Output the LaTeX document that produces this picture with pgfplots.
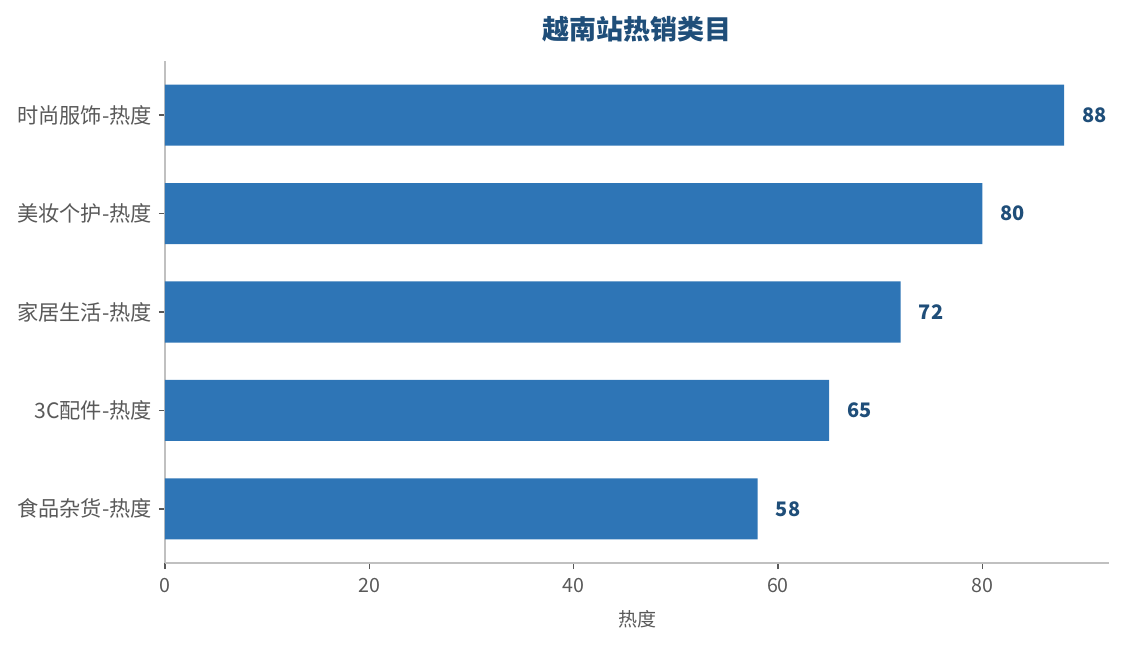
\documentclass[border=0pt]{standalone}
\usepackage{pgfplots}
\pgfplotsset{compat=1.18}
\usepackage{fontspec}
\setmainfont{Noto Sans CJK SC}
\definecolor{barblue}{HTML}{2E75B6}
\definecolor{darkblue}{HTML}{1F4E79}
\definecolor{ticktext}{HTML}{595959}
\definecolor{axisgray}{HTML}{C0C0C0}

\begin{document}
\begin{tikzpicture}
\begin{axis}[
    name=main,
    scale only axis,
    width=472pt,
    height=251pt,
    xbar,
    bar width=0.62,
    xmin=0, xmax=92.4,
    ymin=-0.55, ymax=4.55,
    axis lines*=left,
    axis line style={axisgray, line width=0.9pt, -},
    xtick={0,20,40,60,80},
    ytick={0,1,2,3,4},
    yticklabels={食品杂货-热度, 3C配件-热度, 家居生活-热度, 美妆个护-热度, 时尚服饰-热度},
    tick style={ticktext, line width=0.7pt},
    tick align=outside,
    major tick length=3pt,
    xticklabel style={ticktext, font=\fontsize{9.8pt}{11pt}\selectfont, yshift=-1pt},
    yticklabel style={ticktext, font=\fontsize{10.6pt}{12pt}\selectfont},
    /pgf/number format/assume math mode=true,
    xlabel={热度},
    xlabel style={ticktext, font=\fontsize{9.5pt}{11pt}\selectfont, yshift=-2pt},
    title={越南站热销类目},
    title style={darkblue, font=\fontsize{13.5pt}{15pt}\selectfont\bfseries, yshift=0pt},
    nodes near coords,
    nodes near coords style={darkblue, font=\fontsize{10pt}{12pt}\selectfont\bfseries, anchor=west, inner sep=0pt, xshift=9pt},
]
\addplot[fill=barblue, draw=none] coordinates {
    (58,0) (65,1) (72,2) (80,3) (88,4)
};
\end{axis}
\path[use as bounding box] ([xshift=-82.5pt, yshift=-41pt]main.south west) rectangle ([xshift=7.5pt, yshift=30.5pt]main.north east);
\end{tikzpicture}
\end{document}
